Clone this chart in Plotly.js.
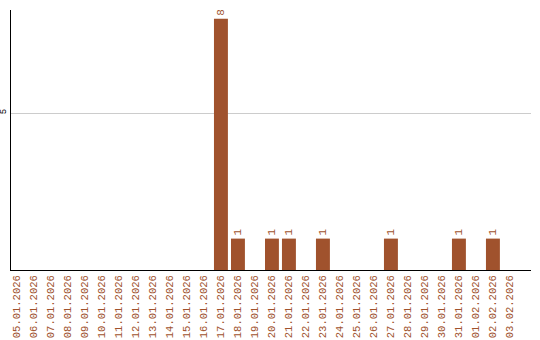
<!DOCTYPE html>
<html><head><meta charset="utf-8">
<script src="https://cdn.plot.ly/plotly-3.0.1.min.js"></script>
<style>html,body{margin:0;padding:0;background:#fff}#chart{width:540px;height:340px}</style>
</head><body><div id="chart"></div>
<script>
const dates = ["05.01.2026","06.01.2026","07.01.2026","08.01.2026","09.01.2026","10.01.2026","11.01.2026","12.01.2026","13.01.2026","14.01.2026","15.01.2026","16.01.2026","17.01.2026","18.01.2026","19.01.2026","20.01.2026","21.01.2026","22.01.2026","23.01.2026","24.01.2026","25.01.2026","26.01.2026","27.01.2026","28.01.2026","29.01.2026","30.01.2026","31.01.2026","01.02.2026","02.02.2026","03.02.2026"];
const counts = [0,0,0,0,0,0,0,0,0,0,0,0,8,1,0,1,1,0,1,0,0,0,1,0,0,0,1,0,1,0];
const labels = counts.map(v => v > 0 ? String(v) : "");
const color = "#A0522D";
const mono = "Liberation Mono, Courier New, monospace";
Plotly.newPlot("chart", [{
  type: "bar", x: dates, y: counts, marker: {color: color},
  text: labels, textposition: "outside", textangle: -90, cliponaxis: false,
  textfont: {family: mono, size: 11, color: color},
  hoverinfo: "none"
}], {
  width: 540, height: 340,
  margin: {l: 11, r: 9, t: 10, b: 70},
  paper_bgcolor: "#fff", plot_bgcolor: "#fff",
  bargap: 0.18, showlegend: false,
  xaxis: {type: "category", range: [-0.35, 30.24], tickangle: -90, showline: true, linecolor: "#000", linewidth: 1,
    ticks: "", showgrid: false,
    tickfont: {family: mono, size: 10.5, color: color}},
  yaxis: {range: [0, 8.28], tickvals: [5], ticktext: ["5"], tickangle: -90,
    showline: true, linecolor: "#000", linewidth: 1, zeroline: false,
    showgrid: true, gridcolor: "#cccccc", ticks: "",
    tickfont: {family: mono, size: 9, color: "#000"}}
}, {displayModeBar: false, staticPlot: true});
</script></body></html>
